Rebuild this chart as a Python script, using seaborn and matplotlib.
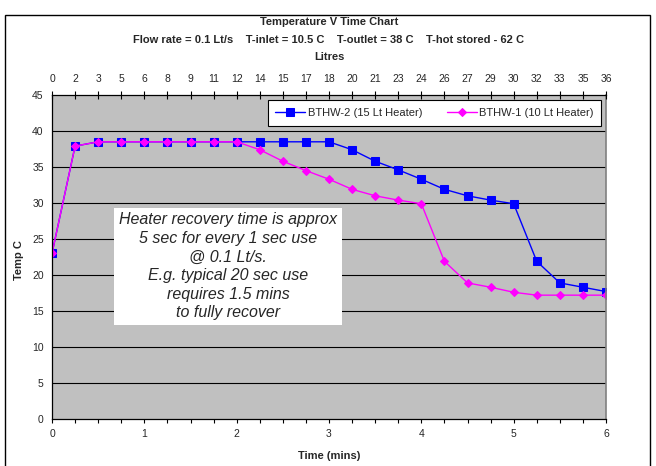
import numpy as np
import pandas as pd
import matplotlib
matplotlib.use('Agg')
import matplotlib.pyplot as plt
import seaborn as sns
from matplotlib.patches import Rectangle

# data: one point every 15 sec (0.25 min)
time_mins = [0, 0.25, 0.5, 0.75, 1, 1.25, 1.5, 1.75, 2, 2.25, 2.5, 2.75, 3,
             3.25, 3.5, 3.75, 4, 4.25, 4.5, 4.75, 5, 5.25, 5.5, 5.75, 6]
bthw2 = [23, 37.9, 38.5, 38.5, 38.5, 38.5, 38.5, 38.5, 38.5, 38.5, 38.5, 38.5, 38.5,
         37.4, 35.8, 34.6, 33.3, 31.9, 31.0, 30.4, 29.9, 21.9, 18.9, 18.3, 17.7]
bthw1 = [23, 37.9, 38.5, 38.5, 38.5, 38.5, 38.5, 38.5, 38.5, 37.4, 35.8, 34.5, 33.3,
         31.9, 31.0, 30.4, 29.9, 21.9, 18.9, 18.3, 17.6, 17.2, 17.2, 17.2, 17.2]
litres = ['0', '2', '3', '5', '6', '8', '9', '11', '12', '14', '15', '17', '18',
          '20', '21', '23', '24', '26', '27', '29', '30', '32', '33', '35', '36']
yticks = [0, 5, 10, 15, 20, 25, 30, 35, 40, 45]
note = ("Heater recovery time is approx\n5 sec for every 1 sec use\n@ 0.1 Lt/s.\n"
        "E.g. typical 20 sec use\nrequires 1.5 mins\nto fully recover")

df = pd.DataFrame({'time': time_mins, 'b2': bthw2, 'b1': bthw1})

sns.set_style('white')
plt.rcParams['font.family'] = ['Liberation Sans', 'DejaVu Sans']

W, H = 656, 466
fig = plt.figure(figsize=(W/100, H/100), dpi=100)
ax = fig.add_axes([52/W, 1 - 419/H, 554/W, 324/H])
ax.set_facecolor('#C0C0C0')

sns.lineplot(data=df, x='time', y='b2', ax=ax, color='#0000FF', lw=1,
             marker='s', markersize=5.5, markeredgecolor='#0000FF',
             label='BTHW-2 (15 Lt Heater)')
sns.lineplot(data=df, x='time', y='b1', ax=ax, color='#FF00FF', lw=1,
             marker='D', markersize=4.5, markeredgecolor='#FF00FF',
             label='BTHW-1 (10 Lt Heater)')

ax.set_xlim(0, 6)
ax.set_ylim(0, 45)
ax.set_yticks(yticks)
ax.set_xticks(range(7))
ax.set_xticks(time_mins, minor=True)
for y in yticks[1:-1]:
    ax.axhline(y, color='black', lw=0.8, zorder=0.5)

ax.tick_params(axis='both', labelsize=7.5, direction='out', length=3, width=0.8,
               color='black', pad=3)
ax.tick_params(axis='x', which='minor', direction='out', length=3, width=0.8,
               color='black', bottom=True)
ax.tick_params(axis='x', pad=4)
for side in ['left', 'bottom', 'top']:
    ax.spines[side].set_color('black')
    ax.spines[side].set_linewidth(0.9)
ax.spines['right'].set_color('#808080')
ax.spines['right'].set_linewidth(1.2)

ax.set_xlabel('Time (mins)', fontsize=8, fontweight='bold', labelpad=9)
ax.set_ylabel('Temp C', fontsize=8, fontweight='bold')
ax.yaxis.set_label_coords(-0.05, 0.49)

# litres scale on the top axis
ax2 = ax.twiny()
ax2.set_xlim(0, 6)
ax2.set_xticks(time_mins)
ax2.set_xticklabels(litres)
ax2.tick_params(axis='x', labelsize=7.5, direction='inout', length=6, width=0.8,
                color='black', pad=5)
for s in ax2.spines.values():
    s.set_visible(False)

cx = (52 + 606) / 2 / W
fig.text(cx, 1 - 22/H, 'Temperature V Time Chart', ha='center', va='center',
         fontsize=8, fontweight='bold')
fig.text(cx, 1 - 40/H,
         'Flow rate = 0.1 Lt/s    T-inlet = 10.5 C    T-outlet = 38 C    T-hot stored - 62 C',
         ha='center', va='center', fontsize=8, fontweight='bold')
fig.text(cx, 1 - 57/H, 'Litres', ha='center', va='center', fontsize=8, fontweight='bold')

leg = ax.legend(loc='upper right', ncol=2, fontsize=8, frameon=True, fancybox=False,
                edgecolor='black', framealpha=1, borderaxespad=0.45,
                handlelength=2.7, handletextpad=0.2, columnspacing=2.2, borderpad=0.7)
leg.get_frame().set_linewidth(0.8)

ax.text(0.318, 0.471, note, transform=ax.transAxes, ha='center', va='center',
        fontsize=11.5, style='italic', linespacing=1.3,
        bbox=dict(boxstyle='square,pad=0.3', facecolor='white', edgecolor='none'))

# outer chart frame
fig.patches.append(Rectangle((5/W, -0.05), 645/W, 1.05 - 15/H,
                             transform=fig.transFigure, fill=False,
                             edgecolor='black', lw=1))

fig.savefig('out.png', dpi=100)
